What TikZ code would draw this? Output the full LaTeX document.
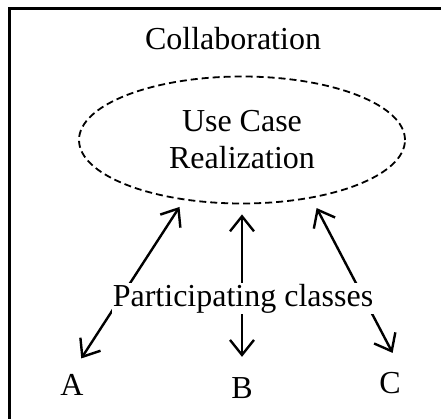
\documentclass[tikz,border=0pt]{standalone}
\usepackage{fontspec}
\setmainfont{Liberation Serif}
\usepackage{tikz}
\usetikzlibrary{arrows.meta}
\usetikzlibrary{shapes.geometric}
\usetikzlibrary{positioning}
\tikzset{label/.style = {font=\fontsize{32}{37}\selectfont, inner sep=1pt, anchor=base}}
\tikzset{link/.style = {{Straight Barb[length=15pt,width=24pt]}-{Straight Barb[length=15pt,width=24pt]},
                        line width=2.4pt}}
\tikzset{realization/.style = {ellipse, draw, dash pattern=on 7pt off 4pt, line width=1.8pt,
                               minimum width=326pt, minimum height=127pt, inner sep=0pt,
                               align=center, font=\fontsize{32}{37}\selectfont}}

\begin{document}
\begin{tikzpicture}[x=1pt, y=-1pt]
      \clip (0, 0) rectangle (441, 419);
      \draw [line width=2.6pt] (9.5, 8.5) rectangle (470, 450);

      \node [label] (collab) at (233, 50) {Collaboration};
      \node [realization] (ucr) at (242, 140) {Use Case\\Realization};

      \node [label] (A) at (72, 395) {A};
      \node [label] (B) at (242, 398) {B};
      \node [label] (C) at (390, 393) {C};

      \draw [link, shorten <=8pt, shorten >=17pt] (ucr.226) -- (A.north);
      \draw [link, shorten <=10pt, shorten >=19pt] (ucr.south) -- (B.north);
      \draw [link, shorten <=11pt, shorten >=20pt] (ucr.320) -- (C.north east);

      \node [label, fill=white] (part) at (243, 306) {Participating classes};
    \end{tikzpicture}
\end{document}
